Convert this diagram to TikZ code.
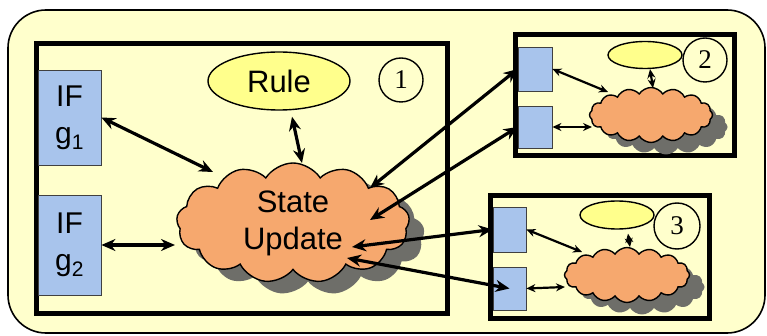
\documentclass[tikz,border=0pt]{standalone}
\usepackage{fontspec}
\setmainfont{Liberation Serif}
\setsansfont{Liberation Sans}
\usetikzlibrary{shapes.geometric,shapes.symbols,arrows.meta,calc}
\definecolor{bgyellow}{RGB}{255,255,204}
\definecolor{ruleyellow}{RGB}{255,255,140}
\definecolor{ifblue}{RGB}{168,196,236}
\definecolor{cloudorange}{RGB}{246,168,110}
\definecolor{shadowgray}{RGB}{110,110,105}
\begin{document}
\begin{tikzpicture}[x=1pt,y=-1pt,
  panelbox/.style={draw=black,line width=1.6pt,fill=bgyellow,rounded corners=38pt,inner sep=0pt},
  framebox/.style={draw=black,line width=5pt,inner sep=0pt},
  ifbox/.style={draw=black!75,line width=0.8pt,fill=ifblue,inner sep=0pt,align=center,
    font=\sffamily\fontsize{30}{37}\selectfont},
  ruleblob/.style={ellipse,draw=black,line width=1.4pt,fill=ruleyellow,inner sep=0pt,
    font=\sffamily\fontsize{31}{37}\selectfont},
  numcirc/.style={circle,draw=black,line width=1.4pt,inner sep=0pt,minimum size=44pt,
    font=\rmfamily\fontsize{27}{27}\selectfont},
  stateblob/.style={cloud,cloud puffs=13,cloud puff arc=115,cloud ignores aspect,
    draw=black,line width=1.4pt,fill=cloudorange,inner sep=0pt,align=center,
    font=\sffamily\fontsize{31}{37}\selectfont},
  shadowblob/.style={cloud,cloud puffs=13,cloud puff arc=115,cloud ignores aspect,
    draw=none,fill=shadowgray,inner sep=0pt},
  dbl/.style={{Stealth[length=14pt,width=12pt]}-{Stealth[length=14pt,width=12pt]},line width=3.2pt},
  sdbl/.style={{Stealth[length=9pt,width=8pt]}-{Stealth[length=9pt,width=8pt]},line width=2.2pt}
]
\useasboundingbox (0,0) rectangle (767,336);
\fill[white] (0,0) rectangle (767,336);

\node[panelbox,minimum width=757,minimum height=323] (panel) at (386.5,171.5) {};

% frames
\node[framebox,minimum width=411.5,minimum height=270] (f1) at (242,178.5) {};
\node[framebox,minimum width=218.5,minimum height=121] (f2) at (625,95.5) {};
\node[framebox,minimum width=218.5,minimum height=123] (f3) at (600,257) {};

% shadows
\node[shadowblob,minimum width=233,minimum height=120] (sh1) at (308,235) {};
\node[shadowblob,minimum width=123,minimum height=55,cloud puffs=16] (sh2) at (666,127) {};
\node[shadowblob,minimum width=125,minimum height=55,cloud puffs=16] (sh3) at (642,287) {};

% clouds
\node[stateblob,minimum width=233,minimum height=120] (c1) at (293,223) {State\\Update};
\node[stateblob,minimum width=123,minimum height=55,cloud puffs=16] (c2) at (651,115) {};
\node[stateblob,minimum width=125,minimum height=55,cloud puffs=16] (c3) at (627,275) {};

% interface boxes
\node[ifbox,minimum width=63,minimum height=95] (g1) at (69.5,117.5) {IF\\g\textsubscript{1}};
\node[ifbox,minimum width=63,minimum height=100] (g2) at (69.5,245) {IF\\g\textsubscript{2}};
\node[ifbox,minimum width=34,minimum height=44] (s2a) at (535,69) {};
\node[ifbox,minimum width=34,minimum height=42] (s2b) at (535,127) {};
\node[ifbox,minimum width=33,minimum height=45] (s3a) at (509.5,229.5) {};
\node[ifbox,minimum width=33,minimum height=43] (s3b) at (509.5,288.5) {};

% rules
\node[ruleblob,minimum width=142,minimum height=58] (rule) at (279,81) {Rule};
\node[ruleblob,minimum width=74,minimum height=27] (e2) at (645,55) {};
\node[ruleblob,minimum width=74,minimum height=28] (e3) at (617,215) {};

% numbers
\node[numcirc] (n1) at (401,80) {1};
\node[numcirc] (n2) at (705,60) {2};
\node[numcirc,minimum size=46pt] (n3) at (677,226) {3};

% arrows in box 1
\draw[dbl] (g1.east) -- ([shift={(-80,-51)}]c1.center);
\draw[dbl] (g2.east) -- ([shift={(-118,22)}]c1.center);
\draw[dbl] ([shift={(13,6)}]rule.south) -- ([shift={(9,-60)}]c1.center);

% long arrows
\draw[dbl] (s2a.west) -- ([shift={(77,-35)}]c1.center);
\draw[dbl] (s2b.west) -- ([shift={(77,-3)}]c1.center);
\draw[dbl] (s3a.west) -- ([shift={(59,24)}]c1.center);
\draw[dbl] (s3b.center) -- ([shift={(54,35)}]c1.center);

% box 2
\draw[sdbl] (s2a.east) -- ([shift={(-43,-23)}]c2.center);
\draw[sdbl] (s2b.east) -- ([shift={(-59,12)}]c2.center);
\draw[sdbl] ([shift={(5,0)}]e2.south) -- ([shift={(2,-27)}]c2.center);

% box 3
\draw[sdbl] (s3a.east) -- ([shift={(-45,-23)}]c3.center);
\draw[sdbl] (s3b.east) -- ([shift={(-62,12)}]c3.center);
\draw[sdbl] ([shift={(11,4)}]e3.south) -- ([shift={(3,-28)}]c3.center);
\end{tikzpicture}
\end{document}
